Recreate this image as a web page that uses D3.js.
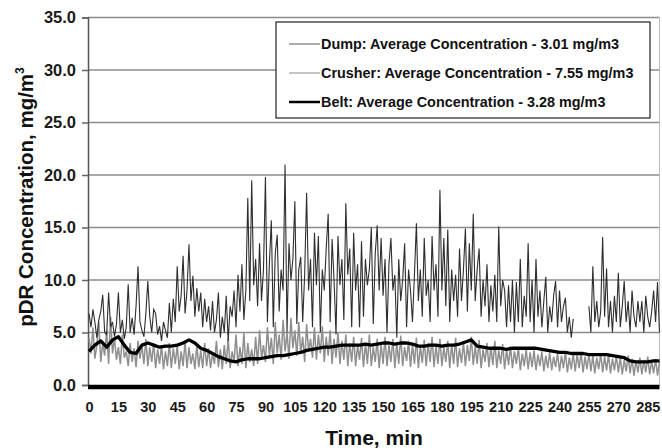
<!DOCTYPE html>
<html><head><meta charset="utf-8">
<script src="https://cdn.jsdelivr.net/npm/d3@7"></script>
<style>
html,body{margin:0;padding:0;background:#fff;}
svg{display:block;font-family:"Liberation Sans",Arial,sans-serif;}
</style></head>
<body><svg id="c" width="662" height="448"></svg>
<script>
// ---- data (minute-by-minute readings, mg/m3) ----
const crusher = [
6.8,5.5,7.2,6.0,4.5,6.2,7.0,8.6,5.0,4.8,8.8,5.5,6.0,4.6,5.8,
8.8,5.0,6.2,4.4,5.5,9.6,5.0,6.4,4.8,7.5,11.3,6.0,5.2,4.6,6.8,
9.9,6.5,5.0,7.2,6.8,4.8,5.6,4.2,6.0,5.2,4.5,7.8,5.0,8.2,6.0,
11.3,7.0,8.5,12.3,6.8,9.0,13.4,8.0,10.4,6.5,9.2,7.0,8.8,5.5,8.2,
6.0,7.5,5.2,8.0,5.0,6.2,8.8,4.5,6.5,5.0,8.5,4.2,7.5,6.5,9.0,
5.5,10.5,7.0,11.5,6.2,9.0,17.8,8.0,19.5,9.5,12.0,7.5,13.5,8.0,11.0,
19.8,6.0,11.5,15.7,5.5,12.5,14.3,7.0,11.0,9.0,21.0,5.0,13.5,10.0,12.0,
17.5,5.8,11.0,12.2,6.0,10.5,18.3,9.0,12.0,5.5,14.5,9.5,14.2,5.0,11.0,
9.0,13.0,16.3,6.0,13.9,10.0,4.8,14.2,9.5,12.0,6.2,17.3,10.5,13.0,5.5,
14.5,9.0,11.5,5.5,13.7,6.5,12.0,9.5,11.0,15.0,5.8,12.5,15.2,9.0,14.0,
8.5,12.0,5.0,11.5,14.0,9.0,10.5,4.5,12.0,8.0,10.0,13.5,5.5,11.0,9.0,
6.0,10.5,15.4,8.0,11.0,6.5,14.0,8.5,10.0,6.0,14.2,9.0,11.5,6.5,18.6,
9.0,14.0,7.5,14.8,6.0,11.0,8.0,10.5,6.5,13.0,8.0,11.0,14.9,7.0,13.5,
9.0,16.3,8.0,11.0,13.0,6.5,10.0,7.5,11.5,6.0,9.5,7.0,10.5,6.0,15.1,
7.5,10.0,9.0,5.5,9.5,6.0,10.0,5.0,9.8,6.0,12.0,5.5,8.5,6.5,13.5,
6.0,10.0,5.0,12.0,6.5,9.0,5.5,8.0,10.3,5.0,7.5,6.0,8.5,9.9,5.5,
9.0,6.0,7.5,8.3,5.0,6.5,4.5,6.3,null,null,null,null,null,null,null,
7.5,5.0,11.3,6.0,8.0,5.5,7.0,14.1,6.5,11.1,5.5,8.0,5.0,8.5,6.0,
10.7,5.5,7.5,9.9,6.0,8.0,5.0,9.0,6.5,5.5,8.0,6.0,8.0,5.0,8.5,
6.5,5.5,7.0,9.0,6.0,9.8,5.0
];
const dump = [
4.5,3.0,5.5,2.5,3.8,6.0,2.2,4.0,2.8,5.2,2.0,6.5,3.0,4.5,2.4,
3.6,2.0,4.8,2.6,3.2,1.8,4.0,2.2,3.5,1.7,4.2,2.5,3.8,2.0,4.4,
1.8,3.6,2.2,4.0,1.6,3.4,2.0,3.8,1.5,3.2,1.8,4.0,1.6,3.5,2.0,
3.8,1.5,3.2,1.8,4.2,1.6,3.6,2.0,3.0,1.5,3.8,1.7,3.3,1.6,4.0,
1.8,3.5,1.6,3.0,2.0,4.2,1.7,3.4,1.5,3.8,2.0,4.5,1.6,3.2,2.2,
4.8,1.8,3.6,2.0,5.0,1.6,4.0,2.2,3.4,1.8,4.6,2.0,5.2,2.5,3.8,
2.2,5.5,2.8,4.5,2.0,6.0,3.0,4.8,2.4,6.2,3.2,5.0,2.5,6.4,3.5,
5.2,2.8,6.0,3.0,4.6,2.2,5.8,3.2,4.4,2.6,5.5,2.4,4.8,3.0,5.6,
2.2,4.6,2.8,5.2,2.0,4.4,2.6,5.0,2.0,4.2,2.4,4.8,1.8,4.0,2.2,
4.6,1.8,3.8,2.4,4.5,1.7,4.0,2.0,4.8,1.8,3.6,2.2,4.4,1.6,3.9,
2.0,4.6,1.8,3.8,2.2,4.4,1.6,4.0,2.0,4.7,1.8,3.6,2.3,4.2,1.7,
3.9,2.0,4.5,1.6,3.7,2.1,4.3,1.8,4.0,2.2,4.6,1.7,3.8,2.0,4.4,
1.8,3.6,2.2,4.2,1.6,3.9,2.0,4.5,1.7,3.5,2.1,4.1,1.8,3.8,2.3,
4.6,1.9,3.7,2.0,4.3,1.6,3.4,2.2,4.0,1.7,3.6,1.9,4.2,1.6,3.3,
2.0,3.9,1.5,3.4,1.9,3.7,1.6,3.2,2.0,3.6,1.4,3.0,1.8,3.4,1.5,
3.1,1.7,3.3,1.4,2.9,1.8,3.2,1.3,2.8,1.6,3.1,1.4,2.7,1.7,3.0,
1.3,2.8,1.6,3.2,1.2,2.6,1.5,3.0,1.3,2.9,1.6,3.1,1.2,2.7,1.5,
3.0,1.3,2.8,1.1,2.6,1.5,3.0,1.2,2.7,1.4,2.9,1.1,2.5,1.4,2.8,
1.2,2.6,1.0,2.4,1.3,2.8,1.1,2.5,0.9,2.3,1.2,2.6,1.0,2.4,1.2,
2.7,1.0,2.3,1.1,2.5,0.9,2.2
];
// belt readings every 3 minutes
const beltStep = 3;
const belt = [
3.2,3.8,4.2,3.6,4.3,4.6,3.8,3.1,3.0,3.8,4.0,3.8,3.6,3.7,3.7,3.8,4.0,4.3,4.0,3.5,
3.3,3.0,2.7,2.5,2.3,2.2,2.4,2.5,2.5,2.5,2.6,2.7,2.8,2.8,2.9,3.0,3.1,3.3,3.4,3.5,
3.6,3.6,3.7,3.8,3.8,3.8,3.8,3.9,3.8,3.9,4.0,4.0,3.9,4.0,4.0,3.9,3.7,3.7,3.8,3.8,
3.7,3.8,3.8,3.9,4.1,4.3,3.7,3.6,3.5,3.5,3.5,3.4,3.5,3.5,3.5,3.5,3.5,3.4,3.3,3.2,
3.1,3.1,3.0,3.0,3.0,2.9,2.9,2.9,2.9,2.8,2.7,2.6,2.3,2.2,2.2,2.2,2.3,2.3
];
const seriesNames = ["Dump: Average Concentration - 3.01 mg/m3",
                     "Crusher: Average Concentration - 7.55 mg/m3",
                     "Belt: Average Concentration - 3.28 mg/m3"];
const xTickValues = [0,15,30,45,60,75,90,105,120,135,150,165,180,195,210,225,240,255,270,285];
const yTickValues = [0,5,10,15,20,25,30,35];
const xMax = 291;
const yMax = 35;

// ---- drawing ----
const svg = d3.select("#c");
const pLeft = 88, pRight = 659.5, pTop = 17.5, pBottom = 385;
const x = d3.scaleLinear().domain([0, xMax]).range([pLeft + 1, pRight]);
const y = d3.scaleLinear().domain([0, yMax]).range([pBottom, pTop]);

// gridlines
svg.append("g").selectAll("line").data(yTickValues.filter(v => v > 0)).join("line")
  .attr("x1", pLeft).attr("x2", pRight)
  .attr("y1", d => y(d)).attr("y2", d => y(d))
  .attr("stroke", "#8c8c8c").attr("stroke-width", 1.5);
// right border
svg.append("line").attr("x1", pRight).attr("x2", pRight).attr("y1", y(yMax)).attr("y2", y(0))
  .attr("stroke", "#bdbdbd").attr("stroke-width", 1);

// y axis
const yAxis = svg.append("g").attr("transform", `translate(${pLeft},0)`)
  .call(d3.axisLeft(y).tickValues(yTickValues).tickFormat(d3.format(".1f")).tickSize(6).tickPadding(6));
yAxis.select(".domain").attr("stroke", "#555").attr("stroke-width", 1.5);
yAxis.selectAll(".tick line").attr("stroke", "#666").attr("stroke-width", 1.5);
yAxis.selectAll("text").attr("font-size", 16.5).attr("font-weight", "bold").attr("fill", "#1a1a1a")
  .attr("font-family", "'Liberation Sans', Arial, sans-serif");

// x axis
const xAxis = svg.append("g").attr("transform", `translate(0,${pBottom})`)
  .call(d3.axisBottom(x).tickValues(xTickValues).tickFormat(d3.format("d")).tickSize(0).tickPadding(17));
xAxis.select(".domain").remove();
xAxis.selectAll("text").attr("font-size", 14.5).attr("font-weight", "bold").attr("fill", "#1a1a1a")
  .attr("font-family", "'Liberation Sans', Arial, sans-serif");

const lineGen = d3.line().defined(d => d[1] != null).x(d => x(d[0])).y(d => y(d[1]));

const dumpPts = dump.map((v, i) => [i, v]);
const crusherPts = crusher.map((v, i) => [i, v]);
const beltPts = belt.map((v, i) => [i * beltStep, v]);

svg.append("path").datum(dumpPts).attr("d", lineGen)
  .attr("fill", "none").attr("stroke", "#8f8f8f").attr("stroke-width", 1.5);
svg.append("path").datum(crusherPts).attr("d", lineGen)
  .attr("fill", "none").attr("stroke", "#2e2e2e").attr("stroke-width", 1.1);
svg.append("path").datum(beltPts).attr("d", lineGen)
  .attr("fill", "none").attr("stroke", "#000").attr("stroke-width", 3.3).attr("stroke-linejoin", "round");

// thick zero bar
svg.append("line").attr("x1", pLeft).attr("x2", pRight).attr("y1", y(0) + 2).attr("y2", y(0) + 2)
  .attr("stroke", "#000").attr("stroke-width", 4.5);

// legend
const lg = svg.append("g");
lg.append("rect").attr("x", 276).attr("y", 22).attr("width", 374).attr("height", 96)
  .attr("fill", "#fff").attr("stroke", "#222").attr("stroke-width", 1.2);
const lgStyles = [
  {stroke: "#8f8f8f", w: 1.5},
  {stroke: "#8a8a8a", w: 1},
  {stroke: "#000", w: 2.5}
];
seriesNames.forEach((name, i) => {
  const cy = 44 + i * 29;
  lg.append("line").attr("x1", 289).attr("x2", 320).attr("y1", cy).attr("y2", cy)
    .attr("stroke", lgStyles[i].stroke).attr("stroke-width", lgStyles[i].w);
  lg.append("text").attr("x", 321).attr("y", cy + 5).text(name)
    .attr("font-size", 14.4).attr("font-weight", "bold").attr("fill", "#111");
});

// axis titles
const yt = svg.append("text").attr("transform", "translate(33,197) rotate(-90)")
  .attr("text-anchor", "middle").attr("font-size", 20.5).attr("font-weight", "bold").attr("fill", "#111");
yt.append("tspan").text("pDR Concentration, mg/m");
yt.append("tspan").text("3").attr("font-size", 12).attr("dy", -9);

svg.append("text").attr("x", 374).attr("y", 445).attr("text-anchor", "middle")
  .attr("font-size", 21).attr("font-weight", "bold").attr("fill", "#111").text("Time, min");
</script>
</body></html>
